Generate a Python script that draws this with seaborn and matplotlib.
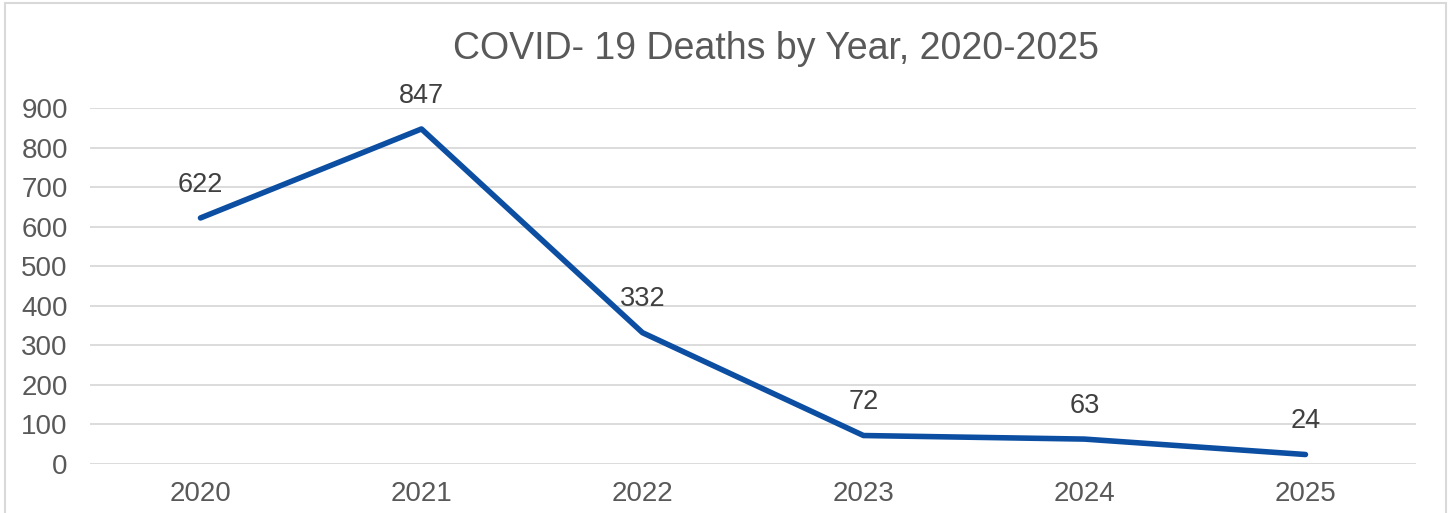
import pandas as pd
import matplotlib.pyplot as plt
import seaborn as sns
from matplotlib.patches import Rectangle

# Deaths per year
years = ['2020', '2021', '2022', '2023', '2024', '2025']
deaths = [622, 847, 332, 72, 63, 24]
y_ticks = [0, 100, 200, 300, 400, 500, 600, 700, 800, 900]

df = pd.DataFrame({'Year': years, 'Deaths': deaths})

sns.set_style('white')
plt.rcParams['font.family'] = ['Liberation Sans', 'DejaVu Sans']

fig = plt.figure(figsize=(14.49, 5.13), dpi=100)
ax = fig.add_axes([0.0621, 0.0955, 0.9151, 0.694])

sns.lineplot(data=df, x='Year', y='Deaths', ax=ax, color='#0B4EA2',
             linewidth=4, solid_capstyle='round', sort=False)

for i, v in enumerate(deaths):
    ax.annotate(str(v), (i, v), xytext=(0, 24), textcoords='offset points',
                ha='center', va='center', fontsize=19.5, color='#404040')

ax.set_xlim(-0.5, len(years) - 0.5)
ax.set_ylim(0, 900)
ax.set_yticks(y_ticks)
ax.grid(axis='y', color='#D9D9D9', linewidth=1.3)
ax.set_axisbelow(True)
for s in ax.spines.values():
    s.set_visible(False)
ax.tick_params(axis='both', length=0, labelsize=20, labelcolor='#595959')
ax.tick_params(axis='y', pad=16)
ax.tick_params(axis='x', pad=12)
ax.set_xlabel('')
ax.set_ylabel('')

fig.text(0.5356, 0.905, 'COVID- 19 Deaths by Year, 2020-2025', ha='center', va='center',
         fontsize=27, color='#595959')

fig.patches.append(Rectangle((0.0035, -0.1), 0.9945, 1.094, transform=fig.transFigure,
                             fill=False, edgecolor='#D9D9D9', linewidth=1.5))

fig.savefig('out.png', dpi=100)
